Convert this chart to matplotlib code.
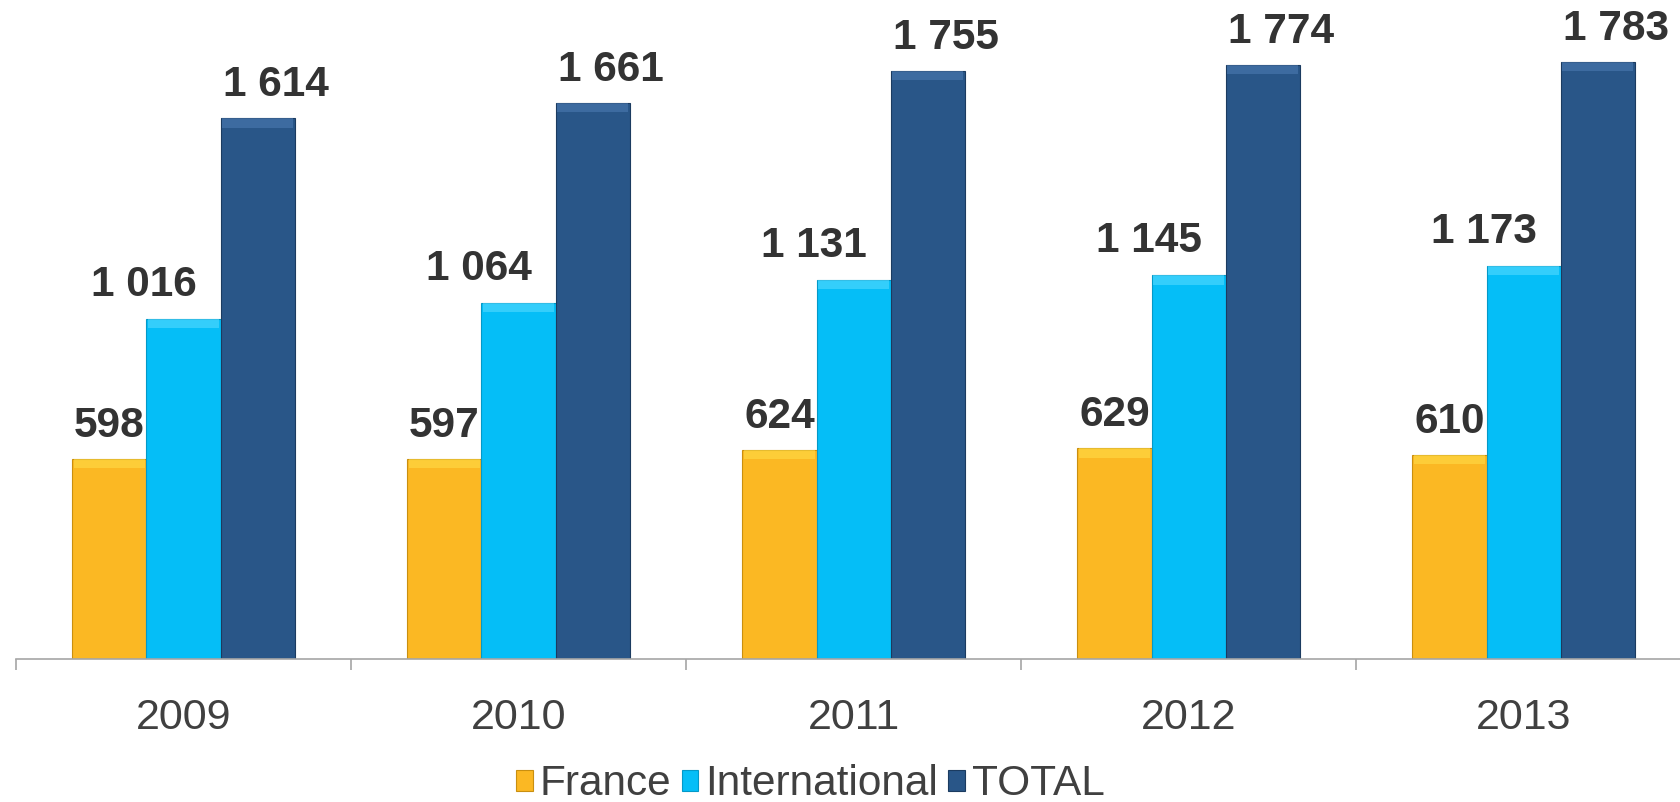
import matplotlib.pyplot as plt
import numpy as np

years = ['2009', '2010', '2011', '2012', '2013']
france = [598, 597, 624, 629, 610]
international = [1016, 1064, 1131, 1145, 1173]
total = [1614, 1661, 1755, 1774, 1783]
series_names = ['France', 'International', 'TOTAL']

def fmt(v):
    # french style thousands separator
    return '{:,}'.format(v).replace(',', ' ')

plt.rcParams['font.family'] = ['Liberation Sans', 'DejaVu Sans']

fig = plt.figure(figsize=(16.81, 8.02), dpi=100)
ax = fig.add_axes([16/1681, 1 - 659/802, 1 - 16/1681, 659/802])

x = np.arange(len(years))
w = 0.221
colors = ['#FBB823', '#05BEF7', '#295688']
edges = ['#C98F10', '#0399C8', '#1B3B60']
tops = ['#FFE04A', '#5CDCFF', '#4F7DB5']
bevel = 28

bars = []
for i, (vals, c, e, t) in enumerate(zip([france, international, total], colors, edges, tops)):
    xs = x + (i - 1) * w
    ax.bar(xs, vals, w, color=c, edgecolor=e, linewidth=0.8, label=series_names[i], zorder=2)
    ax.bar(xs, [bevel] * len(vals), w * 0.96, bottom=np.array(vals) - bevel, color=t, alpha=0.55,
           linewidth=0, zorder=3)
    bars.append(xs)

lab = dict(fontsize=30.5, fontweight='bold', color='#333333', textcoords='offset pixels', va='bottom')
for j in range(len(years)):
    ax.annotate(fmt(france[j]), (bars[0][j], france[j]), xytext=(0, 13), ha='center', **lab)
    ax.annotate(fmt(international[j]), (bars[1][j] + w / 2, international[j]), xytext=(-24, 14), ha='right', **lab)
    ax.annotate(fmt(total[j]), (bars[2][j] - w / 2, total[j]), xytext=(2, 13), ha='left', **lab)

ax.set_xlim(-0.5, 4.47)
ax.set_ylim(0, 1967)
ax.set_xticks(x)
ax.set_xticklabels(years, fontsize=31, color='#404040')
ax.set_xticks(np.arange(-0.5, 4, 1), minor=True)
ax.tick_params(axis='x', which='major', length=0, pad=28)
ax.tick_params(axis='x', which='minor', length=8, color='#A6A6A6', width=1.2)
ax.set_yticks([])
for s in ['top', 'right', 'left']:
    ax.spines[s].set_visible(False)
ax.spines['bottom'].set_color('#A6A6A6')
ax.spines['bottom'].set_linewidth(1.2)
ax.patch.set_alpha(0)

handles, labels = ax.get_legend_handles_labels()
fig.legend(handles, labels, loc='center', bbox_to_anchor=(0.482, 0.022), ncol=3, frameon=False,
           fontsize=30.5, handlelength=0.4, handleheight=0.4, handletextpad=0.15, columnspacing=0.25,
           labelcolor='#404040')

fig.savefig('out.png', dpi=100)
